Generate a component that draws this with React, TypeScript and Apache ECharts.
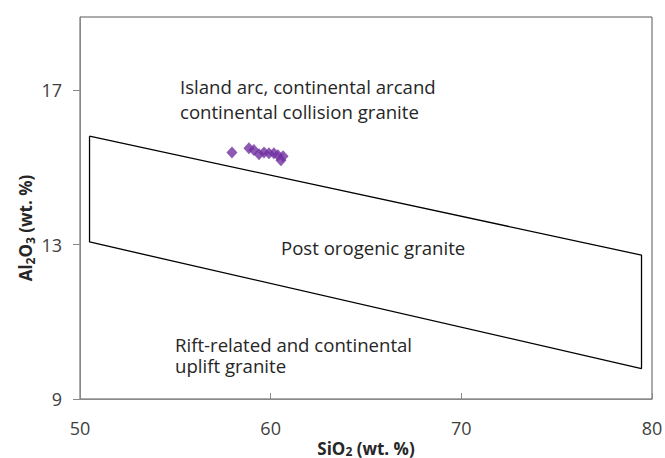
import React, { useEffect, useRef } from "react";
import * as echarts from "echarts";

// Sample data: SiO2 (wt. %) vs Al2O3 (wt. %)
const sio2 = [57.97, 58.86, 59.12, 59.39, 59.65, 59.91, 60.17, 60.38, 60.54, 60.65];
const al2o3 = [15.39, 15.5, 15.45, 15.34, 15.39, 15.37, 15.37, 15.32, 15.19, 15.29];

// Post-orogenic granite field boundary (closed polygon)
const boxSiO2 = [50.5, 79.45, 79.45, 50.5, 50.5];
const boxAl2O3 = [15.81, 12.73, 9.79, 13.07, 15.81];

const xTicks = [50, 60, 70, 80];
const yTicks = [9, 13, 17];

const FONT = "'Open Sans', 'Noto Sans', sans-serif";

export default function App() {
  const ref = useRef<HTMLDivElement>(null);

  useEffect(() => {
    if (!ref.current) return;
    const chart = echarts.init(ref.current, null, { renderer: "svg" });
    const textColor = "#262626";
    const mk = (text: string, x: number, y: number, lineHeight: number) => ({
      type: "text",
      x,
      y,
      style: {
        text,
        fill: textColor,
        fontSize: 18.6,
        lineHeight,
        fontFamily: FONT,
        textAlign: "left",
        textVerticalAlign: "middle",
      },
    });
    chart.setOption({
      animation: false,
      backgroundColor: "#ffffff",
      grid: {
        left: 80,
        right: 13,
        top: 17,
        bottom: 59,
        show: true,
        borderColor: "#595959",
        borderWidth: 1,
        backgroundColor: "transparent",
        outerBoundsMode: "none",
        containLabel: false,
      },
      xAxis: {
        type: "value",
        min: 50,
        max: 80,
        interval: 10,
        name: "SiO{sub|2} (wt. %)",
        nameLocation: "middle",
        nameGap: 41,
        nameMoveOverlap: false,
        nameTextStyle: {
          fontSize: 17,
          fontWeight: "bold",
          color: textColor,
          fontFamily: FONT,
          lineHeight: 17,
          rich: {
            sub: { fontSize: 12, fontWeight: "bold", lineHeight: 12, verticalAlign: "bottom", fontFamily: FONT, color: textColor },
          },
        },
        axisLine: { show: true, lineStyle: { color: "#898989", width: 1 } },
        axisTick: { show: true, inside: true, length: 6, lineStyle: { color: "#898989" }, customValues: xTicks },
        axisLabel: { fontSize: 18, color: "#404040", fontFamily: FONT, margin: 20, customValues: xTicks },
        splitLine: { show: false },
      },
      yAxis: {
        type: "value",
        min: 9,
        max: 18.9,
        interval: 4,
        axisLine: { show: true, lineStyle: { color: "#898989", width: 1 } },
        axisTick: { show: true, inside: false, length: 7, lineStyle: { color: "#898989" }, customValues: yTicks },
        axisLabel: { fontSize: 18, color: "#404040", fontFamily: FONT, margin: 18, customValues: yTicks },
        splitLine: { show: false },
      },
      graphic: [
        {
          type: "text",
          x: 25,
          y: 228,
          rotation: Math.PI / 2,
          style: {
            text: "Al{sub|2}O{sub|3} (wt. %)",
            fill: textColor,
            fontSize: 17,
            fontWeight: "bold",
            fontFamily: FONT,
            textAlign: "center",
            textVerticalAlign: "middle",
            lineHeight: 22,
            rich: {
              sub: { fontSize: 12, fontWeight: "bold", lineHeight: 12, verticalAlign: "bottom", fontFamily: FONT, fill: textColor },
            },
          },
        },
        mk("Island arc, continental arcand\ncontinental collision granite", 180, 98.5, 25),
        mk("Post orogenic granite", 281, 247, 22),
        mk("Rift-related and continental\nuplift granite", 175, 354.5, 21),
      ],
      series: [
        {
          type: "line",
          data: boxSiO2.map((x, i) => [x, boxAl2O3[i]]),
          symbol: "none",
          lineStyle: { color: "#000000", width: 1.3 },
          silent: true,
          z: 2,
        },
        {
          type: "scatter",
          data: sio2.map((x, i) => [x, al2o3[i]]),
          symbol: "diamond",
          symbolSize: [11, 12],
          itemStyle: { color: "#7030A0" },
          z: 3,
        },
      ],
    });
    return () => chart.dispose();
  }, []);

  return <div ref={ref} style={{ width: 665, height: 458, position: "absolute", left: 0, top: 0 }} />;
}
